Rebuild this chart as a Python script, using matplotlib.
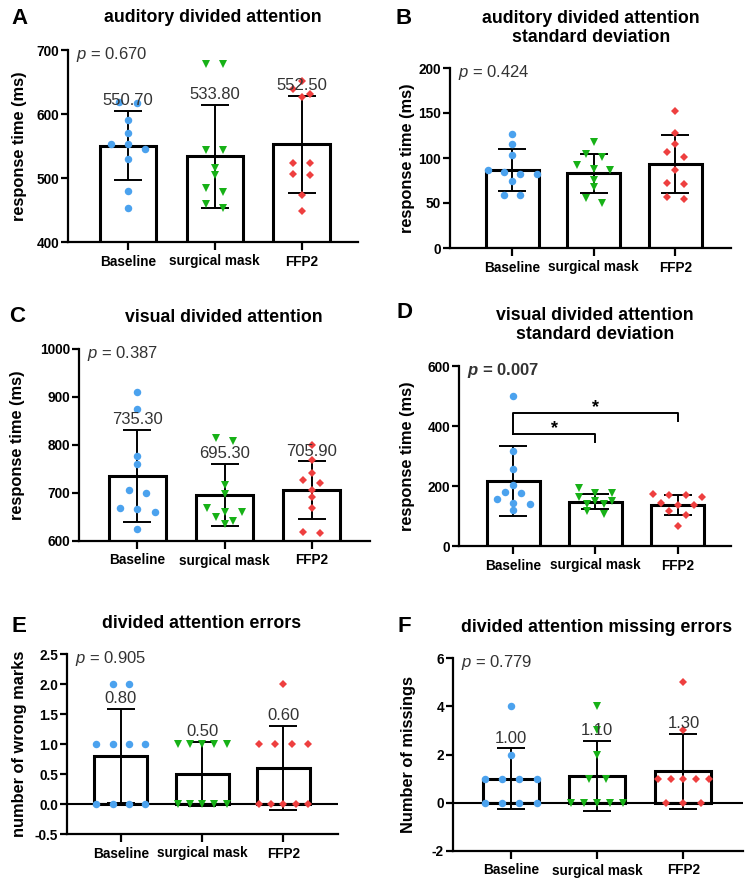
import matplotlib
matplotlib.use("Agg")
import matplotlib.pyplot as plt
import numpy as np
from matplotlib.ticker import FormatStrFormatter

plt.rcParams["font.family"] = ["Liberation Sans", "DejaVu Sans"]
plt.rcParams["mathtext.fontset"] = "custom"
plt.rcParams["mathtext.rm"] = "Liberation Sans"
plt.rcParams["mathtext.it"] = "Liberation Sans:italic"
plt.rcParams["mathtext.bf"] = "Liberation Sans:bold"
plt.rcParams["mathtext.bfit"] = "Liberation Sans:italic:bold"
plt.rcParams["axes.unicode_minus"] = False

groups = ["Baseline", "surgical mask", "FFP2"]

# A - auditory divided attention (ms)
aud_base = [617, 618, 590, 570, 553, 553, 545, 529, 480, 453]
aud_mask = [678, 678, 544, 543, 515, 505, 484, 478, 460, 453]
aud_ffp2 = [651, 639, 631, 627, 523, 523, 507, 505, 473, 448]
aud_mean = [550.70, 533.80, 552.50]
aud_sd = [54, 81, 76]

# B - auditory divided attention standard deviation (ms)
aud_sd_base = [127, 116, 103, 87, 84, 82, 82, 75, 59, 59]
aud_sd_mask = [118, 104, 101, 92, 88, 87, 76, 68, 56, 50]
aud_sd_ffp2 = [152, 128, 116, 107, 101, 87, 72, 71, 57, 54]
aud_sd_mean = [86.6, 83.0, 93.5]
aud_sd_sd = [23, 22, 32]

# C - visual divided attention (ms)
vis_base = [911, 876, 778, 760, 706, 699, 669, 667, 661, 625]
vis_mask = [814, 809, 716, 698, 668, 661, 660, 650, 642, 635]
vis_ffp2 = [799, 769, 742, 728, 721, 706, 691, 668, 619, 617]
vis_mean = [735.30, 695.30, 705.90]
vis_sd = [96, 65, 60]

# D - visual divided attention standard deviation (ms)
vis_sd_base = [501, 316, 256, 203, 180, 176, 158, 144, 139, 119]
vis_sd_mask = [192, 177, 177, 164, 150, 150, 139, 139, 117, 108]
vis_sd_ffp2 = [173, 169, 169, 162, 145, 138, 136, 117, 102, 66]
vis_sd_mean = [218, 148, 136]
vis_sd_sd = [117, 26, 33]
sig_pairs = [(0, 1), (0, 2)]
sig_heights = [373, 442]
sig_ends = [347, 416]

# E - divided attention errors
err_base = [2, 2, 1, 1, 1, 1, 0, 0, 0, 0]
err_mask = [1, 1, 1, 1, 1, 0, 0, 0, 0, 0]
err_ffp2 = [2, 1, 1, 1, 1, 0, 0, 0, 0, 0]
err_mean = [0.80, 0.50, 0.60]
err_sd = [0.79, 0.53, 0.70]

# F - divided attention missing errors
miss_base = [4, 2, 1, 1, 1, 1, 0, 0, 0, 0]
miss_mask = [4, 3, 2, 1, 1, 0, 0, 0, 0, 0]
miss_ffp2 = [5, 3, 1, 1, 1, 1, 1, 0, 0, 0]
miss_mean = [1.00, 1.10, 1.30]
miss_sd = [1.25, 1.45, 1.57]

colors = ["#4ba2ee", "#17b117", "#ee3f3f"]
markers = ["o", "v", "D"]
msizes = [5.4, 5.8, 4.0]

W, H = 746, 881
fig = plt.figure(figsize=(W / 100, H / 100), dpi=100)


def px_axes(left, top, right, bottom):
    return fig.add_axes([left / W, 1 - bottom / H, (right - left) / W, (bottom - top) / H])


def fig_text(x, y, s, **kw):
    fig.text(x / W, 1 - y / H, s, **kw)


def swarm_x(ax, values, center, thresh_px=6, max_gap=0.2, max_span=0.6):
    """spread points with (almost) equal values sideways, like a column scatter"""
    vals = np.asarray(values, float)
    order = np.argsort(-vals, kind="stable")
    ypx = ax.transData.transform(np.column_stack([np.zeros(len(vals)), vals]))[:, 1]
    xs = np.full(len(vals), float(center))
    i = 0
    while i < len(order):
        start = ypx[order[i]]
        j = i
        while j + 1 < len(order) and abs(start - ypx[order[j + 1]]) <= thresh_px:
            j += 1
        members = order[i:j + 1]
        n = len(members)
        if n > 1:
            gap = min(max_gap, max_span / (n - 1))
            xs[members] = center + (np.arange(n) - (n - 1) / 2) * gap
        i = j + 1
    return xs


def draw_panel(box, xlim, series, means, sds, ylim, yticks, ylabel, label_x,
               p_text, p_bold=False, show_means=False, zero_line=False, fmt=None):
    ax = px_axes(*box)
    ax.set_xlim(*xlim)
    ax.set_ylim(*ylim)
    x = np.arange(len(groups))

    ax.bar(x, means, width=0.65, color="white", edgecolor="black", linewidth=2.2, zorder=2)
    ax.errorbar(x, means, yerr=sds, fmt="none", ecolor="black", elinewidth=1.4,
                capsize=10, capthick=1.4, zorder=3)
    if zero_line:
        ax.axhline(0, color="black", lw=1.5, zorder=2.5)

    for i, vals in enumerate(series):
        xs = swarm_x(ax, vals, i)
        ax.plot(xs, vals, linestyle="none", marker=markers[i], color=colors[i],
                ms=msizes[i], mew=0, zorder=4, clip_on=False)

    if show_means:
        for i, (m, s) in enumerate(zip(means, sds)):
            ax.annotate(f"{m:.2f}", xy=(i, m + s), xytext=(0, 2), textcoords="offset points",
                        ha="center", va="bottom", fontsize=12, color="#333333", zorder=5)

    if p_bold:
        ptxt = r"$\mathbfit{p}$ = " + p_text
    else:
        ptxt = r"$\mathit{p}$ = " + p_text
    ax.annotate(ptxt, xy=(0, 1), xycoords="axes fraction", xytext=(6, -3),
                textcoords="offset points", ha="left", va="center", fontsize=12,
                color="#333333", fontweight="bold" if p_bold else "normal")

    for side in ["top", "right"]:
        ax.spines[side].set_visible(False)
    for side in ["left", "bottom"]:
        ax.spines[side].set_linewidth(1.6)

    ax.set_xticks(x)
    ax.set_xticklabels(groups, fontsize=9.8, fontweight="bold")
    ax.set_yticks(yticks)
    if fmt:
        ax.yaxis.set_major_formatter(FormatStrFormatter(fmt))
    plt.setp(ax.get_yticklabels(), fontsize=9.8, fontweight="bold")
    ax.tick_params(axis="x", length=5.5, width=1.6, pad=3.5)
    ax.tick_params(axis="y", length=5, width=1.6, pad=1.5)

    ax.set_ylabel(ylabel, fontsize=11.8, fontweight="bold")
    ax.yaxis.set_label_coords((label_x - box[0]) / (box[2] - box[0]), 0.5)
    return ax


draw_panel((68, 50, 358, 242), (-0.69, 2.65), [aud_base, aud_mask, aud_ffp2],
           aud_mean, aud_sd, (400, 700), [400, 500, 600, 700], "response time (ms)", 27,
           "0.670", show_means=True)

draw_panel((450, 68, 731, 248), (-0.76, 2.68), [aud_sd_base, aud_sd_mask, aud_sd_ffp2],
           aud_sd_mean, aud_sd_sd, (0, 200), [0, 50, 100, 150, 200], "response time (ms)", 415,
           "0.424")

draw_panel((79, 349, 370, 541), (-0.67, 2.67), [vis_base, vis_mask, vis_ffp2],
           vis_mean, vis_sd, (600, 1000), [600, 700, 800, 900, 1000], "response time (ms)", 25,
           "0.387", show_means=True)

ax_d = draw_panel((459, 366, 731, 546), (-0.66, 2.65), [vis_sd_base, vis_sd_mask, vis_sd_ffp2],
                  vis_sd_mean, vis_sd_sd, (0, 600), [0, 200, 400, 600], "response time (ms)", 415,
                  "0.007", p_bold=True)
for (a, b), h, end in zip(sig_pairs, sig_heights, sig_ends):
    ax_d.plot([a, a, b, b], [sig_heights[0], h, h, end], color="black", lw=1.4, zorder=3)
    ax_d.annotate("*", xy=((a + b) / 2, h), xytext=(0, -2), textcoords="offset points",
                  ha="center", va="bottom", fontsize=13, fontweight="bold")

draw_panel((67, 654, 338, 834), (-0.66, 2.67), [err_base, err_mask, err_ffp2],
           err_mean, err_sd, (-0.5, 2.5), [-0.5, 0, 0.5, 1.0, 1.5, 2.0, 2.5],
           "number of wrong marks", 27, "0.905", show_means=True, zero_line=True, fmt="%.1f")

draw_panel((453, 658, 743, 851), (-0.67, 2.69), [miss_base, miss_mask, miss_ffp2],
           miss_mean, miss_sd, (-2, 6), [-2, 0, 2, 4, 6], "Number of missings", 416,
           "0.779", show_means=True, zero_line=True)

# panel titles
title_kw = dict(ha="center", va="center", fontsize=12.8, fontweight="bold", linespacing=1.1)
fig_text(213, 18, "auditory divided attention", **title_kw)
fig_text(591, 28, "auditory divided attention\nstandard deviation", **title_kw)
fig_text(224, 318, "visual divided attention", **title_kw)
fig_text(595, 325, "visual divided attention\nstandard deviation", **title_kw)
fig_text(202, 623, "divided attention errors", **title_kw)
fig_text(597, 627, "divided attention missing errors", **title_kw)

# panel letters
letter_kw = dict(ha="center", va="center", fontsize=16, fontweight="bold")
for letter, lx, ly in [("A", 19, 18), ("B", 404, 19), ("C", 17, 316),
                       ("D", 404, 313), ("E", 19, 626), ("F", 404, 626)]:
    fig_text(lx, ly, letter, **letter_kw)

fig.savefig("out.png", dpi=100)
